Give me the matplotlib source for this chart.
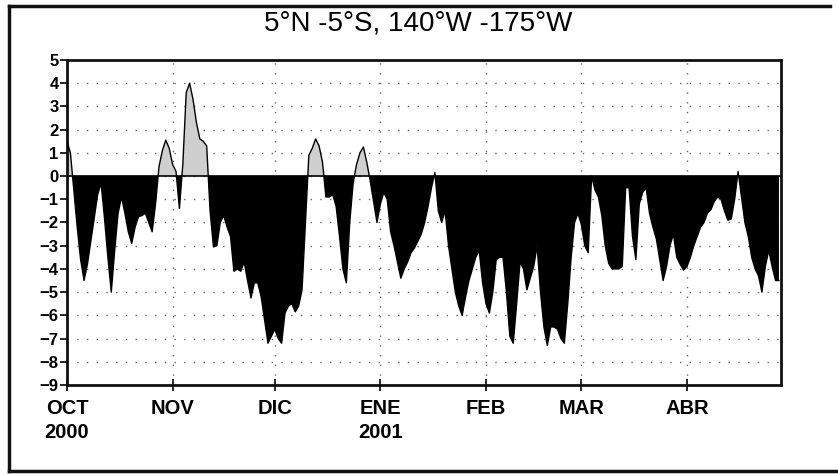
import numpy as np
import matplotlib
matplotlib.use("Agg")
import matplotlib.pyplot as plt
from matplotlib.lines import Line2D
from matplotlib.transforms import ScaledTranslation

# Daily anomaly, 1 Oct 2000 onwards (one value per day)
anomaly = [
    1.5, 1.0, -0.6, -2.2, -3.6, -4.5, -3.8, -2.8, -1.8, -0.8,
    -0.3, -1.8, -3.5, -5.0, -3.2, -1.6, -0.9, -1.6, -2.4, -2.9,
    -2.2, -1.75, -1.7, -1.6, -2.0, -2.4, -1.2, 0.4, 1.1, 1.55,
    1.2, 0.5, 0.2, -1.4, 0.5, 3.6, 4.0, 3.3, 2.3, 1.6,
    1.5, 1.3, -1.5, -3.05, -3.0, -2.0, -1.7, -2.2, -2.6, -4.1,
    -4.0, -4.1, -3.7, -4.5, -5.25, -4.6, -4.6, -5.2, -6.2, -7.2,
    -6.9, -6.6, -7.0, -7.2, -5.9, -5.6, -5.5, -5.85, -5.6, -4.9,
    -2.0, 0.9, 1.2, 1.6, 1.3, 0.6, -0.9, -0.9, -0.8, -1.3,
    -2.6, -4.0, -4.6, -2.0, -0.3, 0.5, 1.0, 1.25, 0.6, -0.2,
    -1.1, -2.0, -1.2, -0.7, -1.0, -2.4, -3.0, -3.7, -4.4, -4.0,
    -3.7, -3.3, -3.1, -2.8, -2.5, -2.0, -1.3, -0.5, 0.15, -1.5,
    -2.0, -1.5, -3.0, -4.0, -5.0, -5.6, -6.0, -5.2, -4.5, -4.0,
    -3.5, -3.2, -4.6, -5.5, -5.9, -5.0, -3.6, -3.5, -3.5, -5.0,
    -6.9, -7.2, -5.5, -3.7, -4.0, -4.9, -4.4, -3.9, -3.0, -5.0,
    -6.5, -7.3, -6.5, -6.5, -6.6, -7.0, -7.2, -5.5, -3.5, -2.0,
    -1.6, -2.1, -3.0, -3.3, 0.0, -0.6, -0.9, -1.7, -3.0, -3.75,
    -4.0, -4.0, -4.0, -3.9, -0.5, -0.5, -2.6, -3.6, -1.2, -0.7,
    -0.5, -1.6, -2.2, -2.7, -3.6, -4.5, -3.9, -3.0, -2.5, -3.5,
    -3.8, -4.05, -3.9, -3.5, -3.0, -2.6, -2.2, -2.0, -1.6, -1.45,
    -1.1, -0.9, -1.0, -1.5, -1.9, -1.85, -1.0, 0.2, -0.9, -2.0,
    -2.6, -3.5, -4.0, -4.3, -5.0, -3.9, -3.2, -3.9, -4.5, -4.5,
]

# Month starts, counted in days from 1 Oct 2000
month_days = [0, 31, 61, 92, 123, 151, 182]
month_labels = ["OCT\n2000", "NOV", "DIC", "ENE\n2001", "FEB", "MAR", "ABR"]
y_ticks = list(range(-9, 6))
title = "5°N -5°S, 140°W -175°W"

days = np.arange(len(anomaly))
vals = np.array(anomaly)

fig = plt.figure(figsize=(8.38, 4.74), dpi=100)
W, H = 838, 474
ax = fig.add_axes([67 / W, 1 - 385 / H, (781 - 67) / W, (385 - 60) / H])

ax.fill_between(days, vals, 0, where=vals >= 0, interpolate=True,
                color="#cfcfcf", lw=0, zorder=2)
ax.fill_between(days, vals, 0, where=vals <= 0, interpolate=True,
                color="black", lw=0, zorder=2)
ax.plot(days, vals, color="black", lw=1.0, zorder=3)
ax.axhline(0, color="black", lw=1.2, zorder=3)

ax.set_xlim(0, 209.6)
ax.set_ylim(-9, 5)

ax.set_yticks(y_ticks)
ax.set_yticklabels([str(v).replace("-", "\u2212") for v in y_ticks])
ax.set_xticks(month_days)
ax.set_xticklabels(month_labels, linespacing=1.35)

tick_font = ["Liberation Sans", "DejaVu Sans"]
for lab in ax.get_yticklabels():
    lab.set_fontfamily(tick_font)
    lab.set_fontweight("bold")
    lab.set_fontsize(12)
for i, lab in enumerate(ax.get_xticklabels()):
    lab.set_fontfamily(tick_font)
    lab.set_fontweight("bold")
    lab.set_fontsize(14.5)
    dx = 10 if i == 0 else 5
    lab.set_transform(lab.get_transform() +
                      ScaledTranslation(dx / 100, 0, fig.dpi_scale_trans))

ax.tick_params(axis="y", direction="out", length=5, width=1.2, pad=1)
ax.tick_params(axis="x", direction="inout", length=8, width=1.2, pad=6)

ax.grid(True, color="#666666", linestyle=(0, (1, 6)), lw=1.0, zorder=1)
for s in ax.spines.values():
    s.set_linewidth(2.0)
    s.set_color("#111111")

fig.text(418 / W, 1 - 23 / H, title, ha="center", va="center",
         fontsize=20, family=["Liberation Sans", "DejaVu Sans"])

# Outer frame
frame_kw = dict(color="#111111", lw=2.5, transform=fig.transFigure)
fig.add_artist(Line2D([9 / W, 830 / W], [1 - 6 / H, 1 - 6 / H], **frame_kw))
fig.add_artist(Line2D([9 / W, 9 / W], [1 - 6 / H, 1 - 471 / H], **frame_kw))
fig.add_artist(Line2D([9 / W, 1.0], [1 - 471 / H, 1 - 471 / H], **frame_kw))

fig.savefig("out.png", dpi=100)
